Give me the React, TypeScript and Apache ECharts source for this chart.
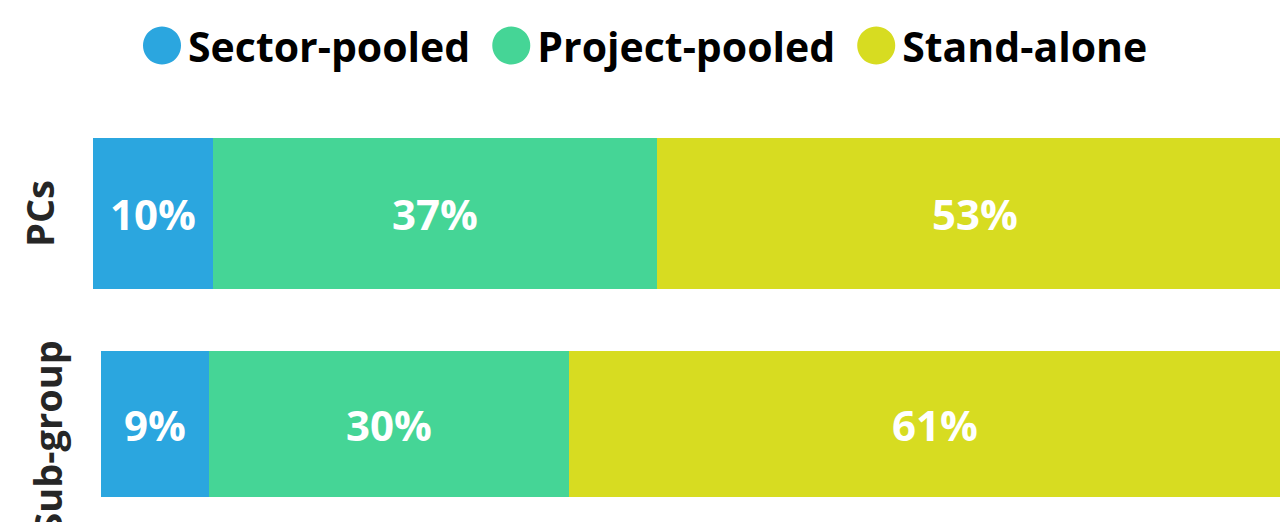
import React, { useEffect, useRef } from "react";
import * as echarts from "echarts";

const categories = ["PCs", "Sub-group"];
const seriesNames = ["Sector-pooled", "Project-pooled", "Stand-alone"];
const sectorPooled = [10, 9];
const projectPooled = [37, 30];
const standAlone = [53, 61];
const colors = ["#2BA6DF", "#45D596", "#D7DC21"];

const FONT = "'Open Sans', 'Noto Sans', sans-serif";

export default function App() {
  const ref = useRef<HTMLDivElement>(null);
  useEffect(() => {
    if (!ref.current) return;
    const chart = echarts.init(ref.current, undefined, { renderer: "svg" });
    const values = [sectorPooled, projectPooled, standAlone];
    const grids = [
      { left: 93, top: 138, width: 1200, height: 151, outerBoundsMode: "none" },
      { left: 101, top: 351, width: 1200, height: 146, outerBoundsMode: "none" },
    ];
    const series: any[] = [];
    categories.forEach((_, gi) => {
      seriesNames.forEach((name, si) => {
        series.push({
          type: "bar",
          name,
          xAxisIndex: gi,
          yAxisIndex: gi,
          stack: "total" + gi,
          barCategoryGap: "0%",
          data: [values[si][gi]],
          itemStyle: { color: colors[si] },
          label: {
            show: true,
            position: "inside",
            formatter: (p: any) => p.value + "%",
            color: "#ffffff",
            fontSize: 42,
            fontWeight: "bold",
            fontFamily: FONT,
          },
        });
      });
    });
    chart.setOption({
      animation: false,
      color: colors,
      legend: {
        data: seriesNames.map((n, i) => ({ name: n, itemStyle: { color: colors[i] } })),
        top: 20,
        left: 138,
        icon: "circle",
        itemWidth: 38,
        itemHeight: 38,
        itemGap: 22,
        textStyle: { fontSize: 41, fontWeight: "bold", color: "#000", fontFamily: FONT, padding: [0, 0, 0, 2] },
      },
      grid: grids,
      xAxis: grids.map((_, gi) => ({
        type: "value",
        gridIndex: gi,
        min: 0,
        max: 100,
        show: false,
      })),
      yAxis: grids.map((_, gi) => ({
        type: "category",
        gridIndex: gi,
        data: [categories[gi]],
        axisLine: { show: false },
        axisTick: { show: false },
        axisLabel: {
          rotate: 90,
          margin: 35,
          fontSize: 38,
          fontWeight: "bold",
          color: "#262626",
          fontFamily: FONT,
          padding: gi === 1 ? [0, 26, 0, 0] : 0,
        },
      })),
      series,
    });
    return () => chart.dispose();
  }, []);
  return (
    <div
      ref={ref}
      style={{ position: "absolute", left: 0, top: 0, width: 1280, height: 522, overflow: "hidden" }}
    />
  );
}
